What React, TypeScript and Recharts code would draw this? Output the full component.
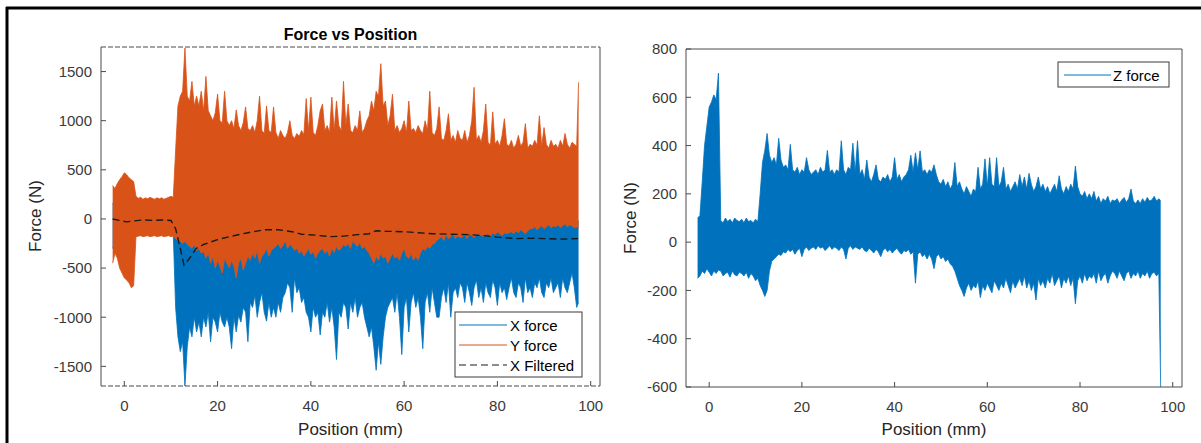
import { ComposedChart, Area, Line, XAxis, YAxis } from "recharts";

const FONT = '"Liberation Sans", Arial, Helvetica, sans-serif';
const BLUE = "#0072BD";
const ORANGE = "#D95319";
const AXIS = "#4a4a4a";
const TICK_TEXT = "#3a3a3a";

// sample positions (mm), 0.5 mm apart, plus the last sample
const positions = [
  -2.5, -2, -1.5, -1, -0.5, 0, 0.5, 1, 1.5, 2,
  2.5, 3, 3.5, 4, 4.5, 5, 5.5, 6, 6.5, 7,
  7.5, 8, 8.5, 9, 9.5, 10, 10.5, 11, 11.5, 12,
  12.5, 13, 13.5, 14, 14.5, 15, 15.5, 16, 16.5, 17,
  17.5, 18, 18.5, 19, 19.5, 20, 20.5, 21, 21.5, 22,
  22.5, 23, 23.5, 24, 24.5, 25, 25.5, 26, 26.5, 27,
  27.5, 28, 28.5, 29, 29.5, 30, 30.5, 31, 31.5, 32,
  32.5, 33, 33.5, 34, 34.5, 35, 35.5, 36, 36.5, 37,
  37.5, 38, 38.5, 39, 39.5, 40, 40.5, 41, 41.5, 42,
  42.5, 43, 43.5, 44, 44.5, 45, 45.5, 46, 46.5, 47,
  47.5, 48, 48.5, 49, 49.5, 50, 50.5, 51, 51.5, 52,
  52.5, 53, 53.5, 54, 54.5, 55, 55.5, 56, 56.5, 57,
  57.5, 58, 58.5, 59, 59.5, 60, 60.5, 61, 61.5, 62,
  62.5, 63, 63.5, 64, 64.5, 65, 65.5, 66, 66.5, 67,
  67.5, 68, 68.5, 69, 69.5, 70, 70.5, 71, 71.5, 72,
  72.5, 73, 73.5, 74, 74.5, 75, 75.5, 76, 76.5, 77,
  77.5, 78, 78.5, 79, 79.5, 80, 80.5, 81, 81.5, 82,
  82.5, 83, 83.5, 84, 84.5, 85, 85.5, 86, 86.5, 87,
  87.5, 88, 88.5, 89, 89.5, 90, 90.5, 91, 91.5, 92,
  92.5, 93, 93.5, 94, 94.5, 95, 95.5, 96, 96.5, 97,
  97.4,
];

// X force envelope (N)
const xForceHigh = [
  150, 200, 250, 300, 350, 400, 350, 300, 250, 200,
  100, 90, 110, 100, 95, 105, 100, 90, 110, 100,
  100, 95, 105, 100, 90, 100, 95, -150, -180, -200,
  -150, -120, -160, -140, -130, -150, -120, -140, -160, -130,
  -140, -160, -120, -150, -130, -140, -160, -120, -150, -140,
  -130, -150, -140, -120, -160, -140, -130, -150, -120, -140,
  -150, -130, -140, -160, -120, -140, -150, -130, -140, -120,
  -130, -110, -140, -120, -100, -130, -120, -110, -140, -130,
  -140, -120, -150, -130, -120, -140, -130, -150, -140, -120,
  -130, -150, -120, -140, -130, -150, -120, -140, -130, -110,
  -120, -110, -130, -100, -120, -130, -110, -140, -120, -130,
  -150, -160, -180, -150, -170, -140, -160, -150, -170, -160,
  -150, -160, -140, -170, -150, -130, -160, -170, -150, -170,
  -160, -170, -150, -130, -140, -120, -130, -110, -100, -90,
  -40, -30, -50, -20, -40, -30, -20, -40, -30, -40,
  -30, -20, -40, -20, -30, -40, -20, -30, -20, -30,
  -20, -30, -40, -20, -30, -20, -30, -40, -20, -30,
  -20, -30, -20, -10, -30, -20, -20, -30, -20, -10,
  -10, -20, -10, -20, -10, -20, -10, -10, -20, -10,
  -20, -10, -20, -10, -10, -20, -10, -20, -30, -20,
  -20,
];
const xForceLow = [
  -300, -250, -300, -350, -300, -350, -300, -350, -300, -250,
  -150, -160, -140, -150, -160, -140, -150, -160, -150, -140,
  -150, -140, -160, -150, -140, -150, -150, -900, -1200, -1350,
  -1250, -1700, -1300, -1100, -1200, -1000, -1150, -1050, -1200, -1000,
  -1100, -950, -1250, -1000, -1050, -1150, -950, -1050, -1100, -1000,
  -1100, -1320, -1000, -1150, -980, -1050, -900, -950, -1250, -850,
  -900, -780, -1000, -850, -750, -950, -1040, -850, -1000, -900,
  -1000, -850, -950, -800, -750, -650, -700, -950, -600, -750,
  -700, -850, -800, -950, -1000, -1150, -900, -1000, -950, -1180,
  -950, -1000, -850, -1050, -900, -1100, -1430, -950, -1000, -850,
  -900, -1120, -850, -950, -800, -1000, -900, -850, -1000, -1100,
  -1200, -1100, -1300, -1540, -1250, -1480, -1200, -1000, -900, -850,
  -800, -950, -750, -1000, -1380, -900, -800, -1150, -850, -750,
  -900, -800, -1000, -1320, -850, -750, -950, -700, -850, -1000,
  -1000, -800, -700, -850, -650, -1000, -750, -700, -800, -650,
  -700, -850, -650, -750, -880, -700, -620, -800, -700, -850,
  -650, -750, -800, -620, -700, -880, -650, -750, -700, -820,
  -700, -600, -750, -800, -650, -700, -850, -600, -750, -700,
  -800, -650, -700, -600, -750, -800, -650, -700, -600, -750,
  -700, -650, -800, -600, -700, -750, -650, -550, -700, -900,
  -850,
];

// Y force envelope (N)
const yForceHigh = [
  340, 310, 360, 400, 430, 470, 450, 420, 400, 380,
  230, 210, 220, 200, 215, 205, 220, 210, 200, 215,
  205, 215, 200, 210, 220, 230, 220, 700, 1150, 1250,
  1300, 1740, 1250, 1200, 1400, 1150, 1250, 1150, 1300, 1100,
  1450, 1100, 1050, 1000, 1080, 1270, 1000, 980, 1300, 1000,
  950, 1000, 920, 1110, 950, 900, 980, 1140, 920, 900,
  950, 880, 1000, 1250, 900, 870, 1150, 900, 880, 1140,
  880, 820, 900, 850, 820, 880, 1000, 850, 820, 870,
  840, 900, 860, 1225, 900, 1240, 880, 850, 950, 1100,
  1170, 900, 950, 880, 1240, 900, 1200, 950, 900, 1400,
  950, 1170, 900, 880, 950, 900, 1100, 880, 920, 1000,
  1050, 1200, 1100, 1300, 1250, 1580, 1150, 1200, 950, 1050,
  1270, 900, 950, 880, 920, 1000, 880, 1200, 900, 920,
  880, 950, 900, 870, 1000, 900, 1300, 880, 850, 920,
  1140, 820, 800, 900, 1070, 800, 850, 780, 900, 820,
  800, 900, 780, 850, 1000, 1340, 800, 850, 780, 900,
  1170, 780, 750, 1090, 760, 800, 740, 850, 1020, 760,
  740, 800, 720, 760, 850, 740, 780, 970, 720, 760,
  740, 800, 750, 1050, 740, 930, 760, 720, 800, 740,
  760, 720, 800, 740, 870, 760, 720, 780, 760, 740,
  1390,
];
const yForceLow = [
  -450, -350, -400, -500, -550, -600, -620, -650, -700, -680,
  -180, -175, -170, -180, -175, -170, -180, -175, -170, -180,
  -175, -170, -180, -175, -170, -180, -175, -200, -220, -230,
  -250, -230, -260, -280, -300, -260, -320, -300, -350, -330,
  -400, -350, -450, -380, -500, -420, -480, -550, -400, -450,
  -500, -420, -480, -600, -450, -400, -520, -450, -380, -420,
  -350, -400, -320, -450, -380, -350, -300, -380, -320, -300,
  -280, -250, -300, -270, -220, -300, -260, -280, -320, -300,
  -350, -320, -380, -340, -300, -360, -330, -400, -350, -320,
  -300, -350, -320, -380, -300, -340, -280, -320, -300, -260,
  -280, -250, -300, -220, -260, -280, -240, -300, -280, -320,
  -350, -400, -450, -380, -420, -350, -400, -380, -450, -400,
  -350, -400, -380, -420, -350, -300, -380, -400, -350, -420,
  -380, -420, -350, -300, -320, -280, -300, -260, -250, -220,
  -200, -180, -220, -160, -200, -180, -150, -200, -170, -190,
  -180, -160, -200, -150, -170, -190, -150, -170, -160, -180,
  -160, -150, -180, -140, -160, -130, -150, -170, -140, -150,
  -140, -130, -150, -120, -140, -110, -130, -150, -120, -100,
  -100, -80, -110, -90, -70, -100, -80, -60, -90, -70,
  -80, -60, -90, -70, -50, -80, -60, -70, -90, -80,
  -100,
];

// X filtered (N)
const filteredPositions = [
  -2.5, -1, 0.5, 2, 4, 6, 8, 10, 11, 12, 12.8, 14, 15.4, 17, 18.2, 20, 23, 26.5, 30, 33,
  36, 38, 41, 44, 47, 50, 52.5, 54, 56, 60, 63, 66, 70, 74, 77, 80, 84, 87, 90, 94, 97.3,
];
const filteredValues = [
  0, -15, -30, -20, -10, -15, -10, -15, -100, -300, -470, -400, -300, -260, -240, -210, -175, -140, -110, -110,
  -130, -155, -165, -180, -175, -160, -150, -120, -125, -130, -140, -150, -155, -160, -170, -185, -200, -195, -200, -205, -200,
];

// Z force envelope (N)
const zForceHigh = [
  100, 110, 250, 400, 480, 560, 580, 610, 590, 700,
  90, 80, 100, 85, 95, 80, 100, 90, 85, 95,
  80, 100, 85, 90, 80, 95, 85, 200, 330, 380,
  450, 360, 330, 350, 320, 430, 340, 310, 320, 300,
  405, 300, 290, 310, 280, 300, 290, 350, 300, 280,
  290, 300, 280, 310, 290, 300, 380, 290, 300, 280,
  300, 290, 420, 300, 280, 310, 300, 410, 290, 420,
  280, 300, 260, 340, 270, 250, 280, 320, 260, 250,
  270, 260, 280, 250, 270, 350, 260, 280, 250, 270,
  280, 300, 360, 290, 370, 300, 378, 290, 300, 280,
  300, 290, 320, 280, 250, 240, 260, 230, 250, 220,
  240, 330, 230, 250, 220, 200, 230, 210, 190, 220,
  210, 310, 220, 240, 345, 230, 350, 240, 230, 350,
  230, 250, 310, 220, 240, 210, 230, 250, 220, 280,
  230, 270, 220, 285, 240, 210, 230, 270, 220, 240,
  210, 230, 200, 220, 240, 210, 275, 220, 200, 230,
  210, 240, 220, 315, 230, 200, 190, 210, 180, 200,
  180, 210, 170, 190, 160, 180, 170, 190, 160, 175,
  170, 180, 160, 175, 185, 165, 180, 220, 170, 160,
  175, 160, 180, 165, 185, 170, 175, 190, 170, 180,
  170,
];
const zForceLow = [
  -150, -140, -120, -130, -110, -125, -140, -120, -130, -115,
  -120, -140, -130, -125, -145, -120, -135, -140, -125, -130,
  -140, -125, -150, -130, -140, -160, -150, -180, -200, -225,
  -200, -120, -80, -70, -60, -50, -55, -40, -45, -30,
  -40, -30, -50, -35, -25, -60, -30, -20, -35, -25,
  -20, -30, -15, -25, -20, -35, -25, -15, -30, -20,
  -25, -35, -20, -30, -70, -25, -15, -30, -20, -25,
  -30, -20, -35, -40, -25, -35, -45, -30, -40, -60,
  -35, -25, -40, -30, -45, -35, -25, -40, -50, -35,
  -40, -30, -50, -40, -170, -50, -40, -60, -50, -70,
  -50, -70, -110, -60, -50, -70, -60, -80, -70, -90,
  -100, -120, -150, -180, -200, -225, -190, -170, -200, -180,
  -190, -160, -230, -180, -200, -170, -190, -210, -160, -180,
  -200, -170, -190, -150, -180, -210, -160, -190, -170, -150,
  -180, -140, -190, -160, -200, -170, -240, -150, -180, -160,
  -190, -150, -170, -130, -180, -160, -140, -190, -150, -170,
  -140, -180, -150, -255, -160, -140, -170, -130, -160, -140,
  -150, -130, -170, -120, -160, -140, -130, -170, -140, -120,
  -130, -150, -120, -140, -160, -130, -120, -150, -130, -140,
  -120, -150, -130, -140, -120, -150, -130, -125, -140, -130,
  -600,
];

const xTicks = [0, 20, 40, 60, 80, 100];
const leftYTicks = [-1500, -1000, -500, 0, 500, 1000, 1500];
const rightYTicks = [-600, -400, -200, 0, 200, 400, 600, 800];

const leftRows = positions.map((x, i) => ({
  x,
  xForce: [xForceLow[i], xForceHigh[i]],
  yForce: [yForceLow[i], yForceHigh[i]],
}));
const filteredRows = filteredPositions.map((x, i) => ({ x, xFiltered: filteredValues[i] }));
const rightRows = positions.map((x, i) => ({ x, zForce: [zForceLow[i], zForceHigh[i]] }));

const tickStyle = { fill: TICK_TEXT, fontSize: 15, fontFamily: FONT };
const labelStyle = { fill: "#262626", fontSize: 17, fontFamily: FONT };

export default function App() {
  const dashedFrame = { stroke: AXIS, strokeDasharray: "5 2", strokeWidth: 1.2 };
  return (
    <div style={{ position: "absolute", left: 0, top: 0, width: 1201, height: 443, background: "#fff", overflow: "hidden" }}>
      {/* Force vs Position */}
      <div style={{ position: "absolute", left: 0, top: 0 }}>
        <ComposedChart width={620} height={443} data={leftRows} margin={{ top: 46, right: 19, bottom: 27, left: 41 }}>
          <XAxis xAxisId="b" dataKey="x" type="number" domain={[-5, 102]} ticks={xTicks} allowDataOverflow height={30}
            tickSize={-5} tickMargin={19} stroke={AXIS} axisLine={dashedFrame} tick={tickStyle} />
          <XAxis xAxisId="t" orientation="top" dataKey="x" type="number" domain={[-5, 102]} ticks={xTicks} allowDataOverflow
            height={1} tickSize={-5} tick={false} stroke={AXIS} axisLine={dashedFrame} />
          <YAxis yAxisId="l" type="number" domain={[-1700, 1750]} ticks={leftYTicks} allowDataOverflow width={60}
            tickSize={-5} tickMargin={14} stroke={AXIS} tick={tickStyle} />
          <YAxis yAxisId="r" orientation="right" type="number" domain={[-1700, 1750]} ticks={leftYTicks} allowDataOverflow
            width={1} tickSize={-5} tick={false} stroke={AXIS} />
          <Area xAxisId="b" yAxisId="l" dataKey="xForce" type="linear" stroke={BLUE} strokeWidth={0.8} fill={BLUE}
            fillOpacity={1} dot={false} activeDot={false} isAnimationActive={false} />
          <Area xAxisId="b" yAxisId="l" dataKey="yForce" type="linear" stroke={ORANGE} strokeWidth={0.8} fill={ORANGE}
            fillOpacity={1} dot={false} activeDot={false} isAnimationActive={false} />
          <Line xAxisId="b" yAxisId="l" data={filteredRows} dataKey="xFiltered" type="linear" stroke="#1a1a1a"
            strokeWidth={1.4} strokeDasharray="7 4" dot={false} activeDot={false} isAnimationActive={false} />
        </ComposedChart>
      </div>

      {/* Z force */}
      <div style={{ position: "absolute", left: 620, top: 0 }}>
        <ComposedChart width={581} height={443} data={rightRows} margin={{ top: 48, right: 18, bottom: 26, left: 6 }}>
          <XAxis xAxisId="b" dataKey="x" type="number" domain={[-5, 102]} ticks={xTicks} allowDataOverflow height={30}
            tickSize={-5} tickMargin={19} stroke={AXIS} tick={tickStyle} />
          <XAxis xAxisId="t" orientation="top" dataKey="x" type="number" domain={[-5, 102]} ticks={xTicks} allowDataOverflow
            height={1} tickSize={-5} tick={false} stroke={AXIS} />
          <YAxis yAxisId="l" type="number" domain={[-600, 800]} ticks={rightYTicks} allowDataOverflow width={60}
            tickSize={-5} tickMargin={14} stroke={AXIS} tick={tickStyle} />
          <YAxis yAxisId="r" orientation="right" type="number" domain={[-600, 800]} ticks={rightYTicks} allowDataOverflow
            width={1} tickSize={-5} tick={false} stroke={AXIS} />
          <Area xAxisId="b" yAxisId="l" dataKey="zForce" type="linear" stroke={BLUE} strokeWidth={0.8} fill={BLUE}
            fillOpacity={1} dot={false} activeDot={false} isAnimationActive={false} />
        </ComposedChart>
      </div>

      {/* titles, labels, legends, figure frame */}
      <svg width={1201} height={443} style={{ position: "absolute", left: 0, top: 0, pointerEvents: "none" }}>
        <line x1={7} y1={7} x2={7} y2={443} stroke="#000" strokeWidth={3} />
        <line x1={6} y1={8} x2={1201} y2={8} stroke="#000" strokeWidth={3} />

        <text x={350.5} y={39.5} textAnchor="middle" fontFamily={FONT} fontSize={16} fontWeight="bold" fill="#000">
          Force vs Position
        </text>
        <text x={350.5} y={435} textAnchor="middle" {...labelStyle}>Position (mm)</text>
        <text x={934} y={435} textAnchor="middle" {...labelStyle}>Position (mm)</text>
        <text transform="translate(41,216) rotate(-90)" textAnchor="middle" {...labelStyle}>Force (N)</text>
        <text transform="translate(636,218) rotate(-90)" textAnchor="middle" {...labelStyle}>Force (N)</text>

        <rect x={455} y={312} width={127} height={65} fill="#fff" stroke="#3a3a3a" strokeWidth={1} />
        <line x1={459} y1={325} x2={507} y2={325} stroke={BLUE} strokeWidth={1} />
        <line x1={459} y1={345} x2={507} y2={345} stroke={ORANGE} strokeWidth={1} />
        <line x1={459} y1={365} x2={507} y2={365} stroke="#1a1a1a" strokeWidth={1.2} strokeDasharray="7 4" />
        <text x={510} y={330.5} fontFamily={FONT} fontSize={15} fill="#000">X force</text>
        <text x={510} y={350.5} fontFamily={FONT} fontSize={15} fill="#000">Y force</text>
        <text x={510} y={370.5} fontFamily={FONT} fontSize={15} fill="#000">X Filtered</text>

        <rect x={1058} y={62} width={111} height={25} fill="#fff" stroke="#3a3a3a" strokeWidth={1} />
        <line x1={1064} y1={75} x2={1111} y2={75} stroke={BLUE} strokeWidth={1} />
        <text x={1113} y={80.5} fontFamily={FONT} fontSize={15} fill="#000">Z force</text>
      </svg>
    </div>
  );
}
